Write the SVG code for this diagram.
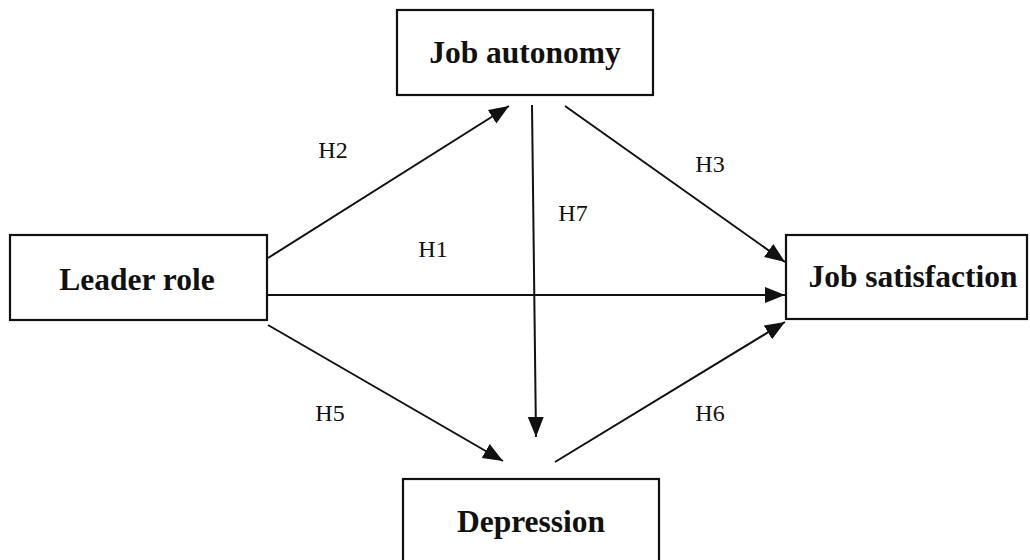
<svg xmlns="http://www.w3.org/2000/svg" width="1030" height="560" viewBox="0 0 1030 560">
<style>
.box{fill:#fff;stroke:#111;stroke-width:2.2}
.t{font-family:"Liberation Serif",serif;font-weight:bold;font-size:31.5px;fill:#111;text-anchor:middle}
.l{font-family:"Liberation Serif",serif;font-size:24px;fill:#111;text-anchor:middle}
.c{stroke:#111;stroke-width:2;fill:none}
</style>
<defs>
<marker id="a" viewBox="0 0 10 10" refX="10" refY="5" markerWidth="10" markerHeight="10" orient="auto" markerUnits="strokeWidth">
<path d="M0,1 L10,5 L0,9 z" fill="#111"/>
</marker>
</defs>
<rect width="1030" height="560" fill="#fff"/>
<g id="job-autonomy"><rect class="box" x="397" y="10" width="256" height="85"/><text class="t" x="525" y="63">Job autonomy</text></g>
<g id="leader-role"><rect class="box" x="10" y="235" width="257" height="85"/><text class="t" x="137" y="290">Leader role</text></g>
<g id="job-satisfaction"><rect class="box" x="786" y="235" width="241" height="84"/><text class="t" x="913" y="287">Job satisfaction</text></g>
<g id="depression"><rect class="box" x="403" y="479" width="256" height="90"/><text class="t" x="531" y="532">Depression</text></g>
<g id="connectors">
<line class="c" x1="268" y1="258" x2="509" y2="106" marker-end="url(#a)"/>
<line class="c" x1="532" y1="105" x2="536" y2="437" marker-end="url(#a)"/>
<line class="c" x1="565" y1="106" x2="785" y2="262" marker-end="url(#a)"/>
<line class="c" x1="268" y1="295" x2="785" y2="295" marker-end="url(#a)"/>
<line class="c" x1="268" y1="325" x2="503" y2="461" marker-end="url(#a)"/>
<line class="c" x1="555" y1="462" x2="785" y2="322" marker-end="url(#a)"/>
</g>
<g id="labels">
<text class="l" x="333" y="158">H2</text>
<text class="l" x="710" y="172">H3</text>
<text class="l" x="573" y="221">H7</text>
<text class="l" x="433" y="257">H1</text>
<text class="l" x="330" y="421">H5</text>
<text class="l" x="710" y="421">H6</text>
</g>
</svg>
